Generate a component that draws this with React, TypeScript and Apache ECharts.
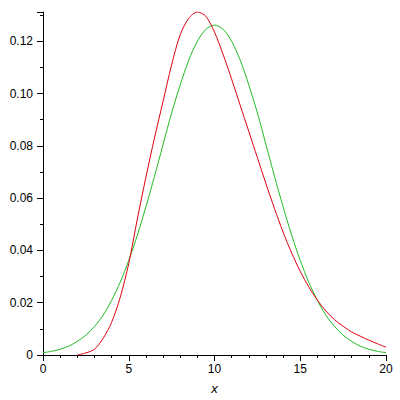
import React, { useEffect, useRef } from "react";
import * as echarts from "echarts";

const redX = [2, 2.5, 3, 3.5, 4, 4.5, 5, 5.5, 6, 6.5, 7, 7.5, 8, 8.5, 9, 9.5, 10, 10.5, 11, 11.5, 12, 12.5, 13, 13.5, 14, 14.5, 15, 15.5, 16, 16.5, 17, 17.5, 18, 18.5, 19, 19.5, 20];
const redY = [0, 0.0008, 0.0022, 0.0063, 0.0125, 0.022, 0.035, 0.052, 0.068, 0.083, 0.097, 0.111, 0.1225, 0.1288, 0.1312, 0.1295, 0.1235, 0.115, 0.1055, 0.0955, 0.0855, 0.0755, 0.0655, 0.056, 0.047, 0.039, 0.032, 0.026, 0.021, 0.0168, 0.0135, 0.011, 0.0088, 0.0072, 0.0057, 0.0043, 0.003];

const greenX = [0, 0.5, 1, 1.5, 2, 2.5, 3, 3.5, 4, 4.5, 5, 5.5, 6, 6.5, 7, 7.5, 8, 8.5, 9, 9.5, 10, 10.5, 11, 11.5, 12, 12.5, 13, 13.5, 14, 14.5, 15, 15.5, 16, 16.5, 17, 17.5, 18, 18.5, 19, 19.5, 20];
const greenY = [0.0009, 0.0014, 0.0022, 0.0034, 0.0052, 0.0076, 0.0109, 0.0152, 0.0209, 0.0278, 0.0362, 0.0458, 0.0567, 0.0683, 0.0805, 0.0926, 0.1033, 0.1128, 0.12, 0.1246, 0.1262, 0.1246, 0.12, 0.1128, 0.1033, 0.0926, 0.0805, 0.0683, 0.0567, 0.0458, 0.0362, 0.0278, 0.0209, 0.0152, 0.0109, 0.0076, 0.0052, 0.0034, 0.0022, 0.0014, 0.0009];

const yTickLabels: Record<string, string> = {
  "0": "0",
  "0.02": "0.02",
  "0.04": "0.04",
  "0.06": "0.06",
  "0.08": "0.08",
  "0.1": "0.10",
  "0.12": "0.12",
};

export default function App() {
  const ref = useRef<HTMLDivElement>(null);
  useEffect(() => {
    if (!ref.current) return;
    const chart = echarts.init(ref.current, undefined, { renderer: "svg" });
    const font = "'Liberation Sans', Arial, sans-serif";
    chart.setOption({
      animation: false,
      backgroundColor: "#ffffff",
      grid: { left: 43, right: 14, top: 12, bottom: 43, containLabel: false },
      xAxis: {
        type: "value",
        min: 0,
        max: 20,
        interval: 5,
        name: "x",
        nameLocation: "middle",
        nameGap: 27,
        nameTextStyle: { fontFamily: font, fontSize: 13, fontStyle: "italic", color: "#000" },
        axisLine: { onZero: false, lineStyle: { color: "#000", width: 1 } },
        axisTick: { length: 6, lineStyle: { color: "#000" } },
        minorTick: { show: true, splitNumber: 5, length: 3, lineStyle: { color: "#000" } },
        axisLabel: { fontFamily: font, fontSize: 12, color: "#000", margin: 8 },
        splitLine: { show: false },
      },
      yAxis: {
        type: "value",
        min: 0,
        max: 0.1312,
        interval: 0.02,
        axisLine: { show: true, onZero: false, lineStyle: { color: "#000", width: 1 } },
        axisTick: { show: true, length: 6, lineStyle: { color: "#000" } },
        minorTick: { show: true, splitNumber: 2, length: 3, lineStyle: { color: "#000" } },
        axisLabel: {
          fontFamily: font,
          fontSize: 12,
          color: "#000",
          margin: 10,
          showMaxLabel: false,
          formatter: (v: number) => {
            const k = String(Math.round(v * 100) / 100);
            return yTickLabels[k] ?? "";
          },
        },
        splitLine: { show: false },
      },
      series: [
        {
          type: "line",
          data: redX.map((x, i) => [x, redY[i]]),
          showSymbol: false,
          smooth: 0.3,
          lineStyle: { color: "#dd0010", width: 1 },
          z: 3,
        },
        {
          type: "line",
          data: greenX.map((x, i) => [x, greenY[i]]),
          showSymbol: false,
          smooth: 0.3,
          lineStyle: { color: "#22bb22", width: 1 },
          z: 2,
        },
      ],
    });
    return () => chart.dispose();
  }, []);
  return <div ref={ref} style={{ width: 400, height: 400, position: "absolute", left: 0, top: 0 }} />;
}
